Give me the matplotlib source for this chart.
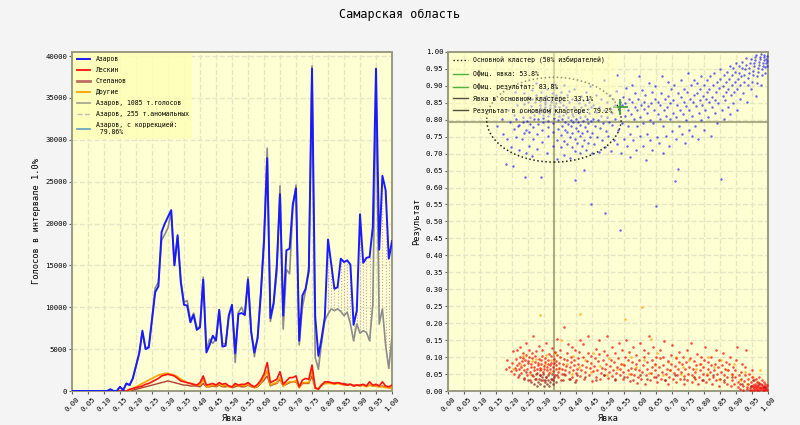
import numpy as np
import matplotlib
matplotlib.use("Agg")
import matplotlib.pyplot as plt
from matplotlib.patches import Ellipse
from matplotlib.lines import Line2D

plt.rcParams['font.family'] = ['DejaVu Sans Mono']

# ---- left panel: votes per 1% turnout bin ----
turnout = [i / 100 for i in range(101)]

azarov = [0] * 12 + [200, 0, 0, 500, 100, 900, 700, 1500,
    3000, 4500, 7200, 5000, 5200, 8500, 11800, 12500, 19000, 20000,
    20800, 21600, 15000, 18600, 13000, 10300, 10200, 8200, 9100, 7300,
    7600, 13300, 4600, 5500, 6600, 6000, 9700, 5300, 5400, 9000,
    10300, 4500, 9200, 9300, 9100, 13300, 7000, 4600, 6300, 11500,
    17800, 27800, 8700, 10500, 15000, 23500, 9000, 16800, 17000, 22300,
    24200, 6000, 11400, 12200, 14300, 38500, 8900, 4200, 6300, 8800,
    18100, 15200, 12200, 12400, 15800, 15400, 15600, 15100, 7900, 9600,
    21100, 15300, 15900, 16000, 19600, 38500, 16900, 25700, 24000, 15800,
    17900]

azarov_1085 = [0] * 12 + [200, 0, 0, 500, 100, 900, 700, 1500,
    3000, 4500, 7000, 5000, 5400, 8700, 12300, 13000, 18000, 18700,
    19500, 21400, 15000, 18400, 13200, 10600, 10800, 8400, 9300, 7600,
    7600, 13600, 5000, 6200, 5700, 6200, 9500, 5700, 5600, 9000,
    10200, 3400, 9400, 10000, 9000, 13600, 7200, 4100, 6500, 11800,
    18500, 29000, 8300, 10300, 14000, 24500, 7400, 14500, 14000, 21800,
    24600, 5500, 10000, 12000, 14800, 38800, 4000, 2600, 5800, 8400,
    9200, 9800, 9600, 9800, 9500, 9000, 9400, 8000, 6000, 8000,
    6900, 7200, 7000, 6000, 10300, 36000, 8000, 9800, 5500, 2700,
    6500]

leskin = [0] * 18 + [200, 300, 400, 500, 600, 800, 900, 1100, 1300, 1500,
    1800, 1900, 2000, 1900, 1800, 1500, 1200, 1100, 1000, 900, 800, 700,
    1000, 1800, 700, 800, 900, 700, 1000, 800, 900, 600, 500, 900, 700, 800,
    800, 1000, 700, 500, 800, 1300, 2000, 3400, 1000, 1200, 1400, 2300,
    800, 1200, 1600, 1600, 1800, 500, 1300, 1500, 1400, 3100, 400, 200,
    700, 1100, 1100, 1000, 900, 1000, 900, 800, 700, 800, 600, 700,
    700, 800, 600, 1100, 700, 800, 600, 1100, 600, 500, 700]

stepanov = [0] * 19 + [100, 200, 300, 400, 500, 600, 700, 800, 900, 1000,
    1100, 1200, 1100, 1000, 900, 800, 700, 700, 600, 600, 600, 500,
    900, 500, 500, 600, 500, 700, 500, 500, 600, 400, 500, 600, 500,
    500, 700, 500, 400, 500, 900, 1300, 1800, 600, 800, 900, 1400,
    600, 800, 1000, 1100, 1100, 400, 900, 900, 900, 1800, 300, 300,
    800, 900, 1000, 1000, 900, 1000, 900, 900, 800, 800, 700, 700,
    600, 700, 600, 700, 600, 600, 500, 600, 500, 400, 300]

drugie = [0] * 18 + [100, 300, 500, 700, 900, 1100, 1300, 1500, 1700, 1900,
    2000, 2100, 2100, 2000, 1900, 1700, 1400, 1200, 1000, 900, 800, 700,
    700, 1400, 500, 600, 700, 600, 800, 600, 700, 500, 500, 700, 600, 700,
    600, 800, 600, 400, 600, 1000, 1600, 2400, 700, 900, 1000, 1600,
    600, 900, 1100, 1100, 1200, 400, 1000, 1000, 1000, 2500, 300, 300,
    700, 900, 900, 900, 800, 900, 800, 700, 700, 800, 600, 700,
    600, 700, 500, 700, 600, 600, 500, 500, 400, 400, 300]

# ---- right panel: precincts (turnout, Azarov share) ----
blue_pts = [
    (0.152, 0.781), (0.168, 0.803), (0.173, 0.758), (0.181, 0.668), (0.184, 0.742),
    (0.187, 0.829), (0.193, 0.792), (0.196, 0.718), (0.198, 0.861), (0.202, 0.664),
    (0.205, 0.772), (0.207, 0.814), (0.209, 0.883), (0.212, 0.749), (0.214, 0.801),
    (0.216, 0.843), (0.219, 0.781), (0.221, 0.712), (0.223, 0.784), (0.225, 0.822),
    (0.227, 0.858), (0.229, 0.903), (0.231, 0.742), (0.233, 0.793), (0.235, 0.808),
    (0.236, 0.846), (0.238, 0.879), (0.239, 0.761), (0.241, 0.632), (0.243, 0.702),
    (0.244, 0.771), (0.246, 0.797), (0.247, 0.826), (0.249, 0.853), (0.251, 0.868),
    (0.252, 0.723), (0.254, 0.764), (0.255, 0.788), (0.257, 0.809), (0.258, 0.822),
    (0.260, 0.841), (0.261, 0.862), (0.263, 0.887), (0.264, 0.692), (0.266, 0.743),
    (0.267, 0.778), (0.269, 0.801), (0.270, 0.815), (0.272, 0.829), (0.273, 0.851),
    (0.275, 0.872), (0.276, 0.907), (0.278, 0.713), (0.279, 0.758), (0.281, 0.787),
    (0.282, 0.803), (0.283, 0.819), (0.284, 0.827), (0.286, 0.834), (0.287, 0.842),
    (0.288, 0.856), (0.289, 0.864), (0.291, 0.881), (0.292, 0.632), (0.293, 0.733),
    (0.294, 0.771), (0.296, 0.792), (0.297, 0.806), (0.298, 0.814), (0.299, 0.823),
    (0.301, 0.831), (0.302, 0.838), (0.303, 0.847), (0.304, 0.853), (0.306, 0.862),
    (0.307, 0.871), (0.308, 0.889), (0.309, 0.702), (0.311, 0.752), (0.312, 0.778),
    (0.313, 0.797), (0.314, 0.811), (0.316, 0.819), (0.317, 0.826), (0.318, 0.833),
    (0.319, 0.844), (0.321, 0.851), (0.322, 0.858), (0.323, 0.866), (0.324, 0.878),
    (0.326, 0.906), (0.327, 0.721), (0.328, 0.763), (0.329, 0.789), (0.331, 0.804),
    (0.332, 0.817), (0.333, 0.829), (0.334, 0.839), (0.336, 0.848), (0.337, 0.861),
    (0.338, 0.874), (0.339, 0.893), (0.341, 0.684), (0.342, 0.741), (0.343, 0.772),
    (0.344, 0.798), (0.346, 0.812), (0.347, 0.824), (0.348, 0.836), (0.349, 0.852),
    (0.351, 0.868), (0.352, 0.883), (0.353, 0.718), (0.354, 0.756), (0.356, 0.782),
    (0.357, 0.803), (0.358, 0.815), (0.359, 0.842), (0.361, 0.858), (0.362, 0.901),
    (0.363, 0.697), (0.364, 0.738), (0.366, 0.771), (0.367, 0.793), (0.368, 0.821),
    (0.369, 0.838), (0.371, 0.872), (0.372, 0.729), (0.373, 0.763), (0.374, 0.788),
    (0.376, 0.809), (0.377, 0.829), (0.378, 0.851), (0.379, 0.884), (0.381, 0.688),
    (0.382, 0.748), (0.383, 0.781), (0.384, 0.799), (0.386, 0.818), (0.387, 0.861),
    (0.388, 0.719), (0.389, 0.761), (0.391, 0.792), (0.392, 0.812), (0.393, 0.837),
    (0.394, 0.889), (0.396, 0.621), (0.397, 0.708), (0.398, 0.742), (0.399, 0.776),
    (0.401, 0.801), (0.402, 0.827), (0.403, 0.858), (0.404, 0.732), (0.406, 0.768),
    (0.407, 0.792), (0.408, 0.819), (0.409, 0.848), (0.411, 0.701), (0.412, 0.751),
    (0.413, 0.783), (0.414, 0.808), (0.416, 0.838), (0.417, 0.869), (0.418, 0.723),
    (0.419, 0.762), (0.421, 0.797), (0.422, 0.827), (0.423, 0.858), (0.424, 0.653),
    (0.426, 0.741), (0.427, 0.779), (0.428, 0.812), (0.429, 0.843), (0.431, 0.881),
    (0.432, 0.712), (0.433, 0.768), (0.434, 0.803), (0.436, 0.832), (0.437, 0.862),
    (0.438, 0.731), (0.439, 0.789), (0.441, 0.821), (0.442, 0.852), (0.443, 0.898),
    (0.444, 0.748), (0.446, 0.797), (0.447, 0.838), (0.448, 0.551), (0.449, 0.703),
    (0.451, 0.762), (0.452, 0.802), (0.453, 0.842), (0.456, 0.728), (0.458, 0.781),
    (0.461, 0.823), (0.463, 0.872), (0.466, 0.748), (0.468, 0.799), (0.471, 0.836),
    (0.473, 0.705), (0.475, 0.774), (0.477, 0.812), (0.479, 0.861), (0.482, 0.741),
    (0.484, 0.791), (0.486, 0.829), (0.488, 0.918), (0.490, 0.524), (0.492, 0.718),
    (0.494, 0.768), (0.496, 0.809), (0.498, 0.851), (0.501, 0.752), (0.503, 0.793),
    (0.505, 0.834), (0.507, 0.872), (0.509, 0.709), (0.512, 0.783), (0.514, 0.821),
    (0.516, 0.862), (0.518, 0.741), (0.521, 0.802), (0.523, 0.843), (0.525, 0.884),
    (0.527, 0.931), (0.529, 0.728), (0.532, 0.771), (0.534, 0.829), (0.536, 0.853),
    (0.539, 0.474), (0.541, 0.701), (0.543, 0.791), (0.545, 0.842), (0.547, 0.868),
    (0.550, 0.742), (0.552, 0.812), (0.554, 0.849), (0.556, 0.893), (0.559, 0.722),
    (0.561, 0.781), (0.563, 0.828), (0.565, 0.861), (0.568, 0.691), (0.570, 0.758),
    (0.572, 0.818), (0.574, 0.851), (0.576, 0.902), (0.579, 0.739), (0.581, 0.801),
    (0.583, 0.838), (0.585, 0.879), (0.588, 0.712), (0.590, 0.782), (0.592, 0.829),
    (0.594, 0.862), (0.596, 0.928), (0.599, 0.752), (0.601, 0.808), (0.603, 0.842),
    (0.605, 0.887), (0.608, 0.723), (0.610, 0.791), (0.612, 0.832), (0.614, 0.853),
    (0.617, 0.872), (0.619, 0.682), (0.621, 0.758), (0.623, 0.819), (0.625, 0.841),
    (0.628, 0.908), (0.630, 0.741), (0.632, 0.798), (0.634, 0.848), (0.637, 0.881),
    (0.639, 0.712), (0.641, 0.789), (0.643, 0.829), (0.646, 0.861), (0.648, 0.899),
    (0.650, 0.546), (0.652, 0.749), (0.655, 0.818), (0.657, 0.852), (0.659, 0.731),
    (0.662, 0.801), (0.664, 0.842), (0.666, 0.878), (0.668, 0.928), (0.671, 0.702),
    (0.673, 0.781), (0.675, 0.828), (0.677, 0.861), (0.680, 0.752), (0.682, 0.812),
    (0.684, 0.838), (0.686, 0.871), (0.689, 0.912), (0.691, 0.722), (0.693, 0.801),
    (0.695, 0.849), (0.698, 0.889), (0.700, 0.768), (0.702, 0.819), (0.704, 0.858),
    (0.707, 0.902), (0.709, 0.619), (0.711, 0.742), (0.713, 0.808), (0.716, 0.842),
    (0.718, 0.879), (0.720, 0.654), (0.722, 0.782), (0.725, 0.828), (0.727, 0.868),
    (0.729, 0.918), (0.731, 0.759), (0.734, 0.818), (0.736, 0.852), (0.738, 0.889),
    (0.741, 0.731), (0.743, 0.798), (0.745, 0.839), (0.747, 0.881), (0.750, 0.938),
    (0.752, 0.771), (0.754, 0.829), (0.756, 0.861), (0.759, 0.902), (0.761, 0.752),
    (0.763, 0.812), (0.765, 0.851), (0.768, 0.872), (0.770, 0.918), (0.772, 0.781),
    (0.774, 0.839), (0.777, 0.879), (0.779, 0.908), (0.781, 0.742), (0.783, 0.821),
    (0.786, 0.858), (0.788, 0.891), (0.790, 0.928), (0.792, 0.798), (0.795, 0.842),
    (0.797, 0.871), (0.799, 0.902), (0.801, 0.771), (0.804, 0.829), (0.806, 0.861),
    (0.808, 0.882), (0.810, 0.918), (0.813, 0.809), (0.815, 0.851), (0.817, 0.889),
    (0.819, 0.928), (0.822, 0.752), (0.824, 0.838), (0.826, 0.868), (0.828, 0.901),
    (0.831, 0.938), (0.833, 0.821), (0.835, 0.859), (0.837, 0.881), (0.840, 0.912),
    (0.842, 0.789), (0.844, 0.848), (0.846, 0.892), (0.849, 0.921), (0.851, 0.948),
    (0.853, 0.624), (0.855, 0.829), (0.858, 0.869), (0.860, 0.899), (0.862, 0.932),
    (0.864, 0.801), (0.866, 0.859), (0.868, 0.882), (0.870, 0.911), (0.872, 0.941),
    (0.874, 0.838), (0.876, 0.891), (0.878, 0.921), (0.880, 0.958), (0.882, 0.818),
    (0.884, 0.872), (0.886, 0.901), (0.888, 0.931), (0.890, 0.951), (0.892, 0.849),
    (0.894, 0.881), (0.896, 0.912), (0.898, 0.942), (0.900, 0.968), (0.902, 0.828),
    (0.904, 0.889), (0.906, 0.921), (0.908, 0.939), (0.910, 0.958), (0.912, 0.861),
    (0.914, 0.901), (0.916, 0.928), (0.918, 0.951), (0.920, 0.971), (0.922, 0.879),
    (0.924, 0.912), (0.926, 0.931), (0.928, 0.948), (0.930, 0.962), (0.932, 0.981),
    (0.934, 0.852), (0.936, 0.901), (0.938, 0.922), (0.940, 0.938), (0.942, 0.952),
    (0.944, 0.968), (0.946, 0.978), (0.948, 0.889), (0.950, 0.912), (0.952, 0.931),
    (0.954, 0.944), (0.955, 0.957), (0.957, 0.966), (0.958, 0.975), (0.960, 0.984),
    (0.962, 0.992), (0.963, 0.871), (0.965, 0.908), (0.966, 0.928), (0.968, 0.941),
    (0.969, 0.952), (0.971, 0.961), (0.972, 0.969), (0.974, 0.978), (0.975, 0.986),
    (0.977, 0.994), (0.978, 0.902), (0.980, 0.931), (0.981, 0.949), (0.983, 0.958),
    (0.984, 0.967), (0.986, 0.976), (0.987, 0.984), (0.989, 0.991), (0.990, 0.938),
    (0.991, 0.955), (0.993, 0.968), (0.994, 0.979), (0.996, 0.988), (0.997, 0.958),
    (0.998, 0.973),
]

red_pts = [
    (0.182, 0.065), (0.184, 0.091), (0.191, 0.072), (0.197, 0.058), (0.201, 0.083),
    (0.204, 0.117), (0.206, 0.049), (0.208, 0.068), (0.211, 0.094), (0.213, 0.061),
    (0.215, 0.077), (0.217, 0.122), (0.219, 0.042), (0.221, 0.066), (0.222, 0.083),
    (0.224, 0.101), (0.226, 0.131), (0.228, 0.054), (0.229, 0.072), (0.231, 0.088),
    (0.233, 0.097), (0.234, 0.112), (0.236, 0.038), (0.238, 0.061), (0.239, 0.078),
    (0.241, 0.092), (0.243, 0.106), (0.244, 0.142), (0.246, 0.047), (0.248, 0.064),
    (0.249, 0.082), (0.251, 0.089), (0.252, 0.101), (0.254, 0.121), (0.256, 0.032),
    (0.257, 0.056), (0.259, 0.071), (0.260, 0.081), (0.262, 0.096), (0.263, 0.111),
    (0.265, 0.163), (0.267, 0.043), (0.268, 0.062), (0.270, 0.071), (0.271, 0.086),
    (0.273, 0.102), (0.274, 0.117), (0.276, 0.036), (0.277, 0.052), (0.279, 0.066),
    (0.280, 0.076), (0.282, 0.084), (0.283, 0.094), (0.285, 0.132), (0.286, 0.046),
    (0.288, 0.061), (0.289, 0.069), (0.291, 0.081), (0.292, 0.091), (0.294, 0.104),
    (0.295, 0.121), (0.297, 0.031), (0.298, 0.057), (0.300, 0.066), (0.301, 0.074),
    (0.303, 0.086), (0.304, 0.098), (0.306, 0.141), (0.307, 0.041), (0.309, 0.062),
    (0.310, 0.071), (0.312, 0.079), (0.313, 0.091), (0.315, 0.109), (0.316, 0.052),
    (0.318, 0.066), (0.319, 0.076), (0.321, 0.084), (0.322, 0.102), (0.324, 0.126),
    (0.325, 0.036), (0.327, 0.058), (0.328, 0.071), (0.330, 0.082), (0.331, 0.094),
    (0.333, 0.116), (0.334, 0.046), (0.336, 0.064), (0.337, 0.076), (0.339, 0.089),
    (0.340, 0.106), (0.342, 0.152), (0.343, 0.041), (0.345, 0.056), (0.346, 0.069),
    (0.348, 0.084), (0.349, 0.101), (0.351, 0.121), (0.353, 0.031), (0.355, 0.051),
    (0.357, 0.066), (0.359, 0.079), (0.361, 0.094), (0.363, 0.188), (0.365, 0.046),
    (0.367, 0.061), (0.369, 0.074), (0.371, 0.091), (0.373, 0.111), (0.375, 0.139),
    (0.377, 0.036), (0.379, 0.056), (0.381, 0.071), (0.383, 0.086), (0.385, 0.101),
    (0.387, 0.131), (0.389, 0.041), (0.391, 0.061), (0.393, 0.076), (0.395, 0.091),
    (0.397, 0.121), (0.399, 0.031), (0.401, 0.052), (0.403, 0.066), (0.405, 0.081),
    (0.407, 0.096), (0.409, 0.116), (0.411, 0.151), (0.413, 0.044), (0.416, 0.063),
    (0.418, 0.078), (0.421, 0.099), (0.423, 0.138), (0.426, 0.036), (0.428, 0.057),
    (0.431, 0.072), (0.433, 0.089), (0.436, 0.112), (0.438, 0.161), (0.441, 0.048),
    (0.443, 0.067), (0.446, 0.082), (0.448, 0.104), (0.451, 0.029), (0.453, 0.058),
    (0.456, 0.074), (0.458, 0.096), (0.461, 0.123), (0.463, 0.041), (0.466, 0.062),
    (0.468, 0.087), (0.471, 0.109), (0.473, 0.151), (0.476, 0.034), (0.478, 0.053),
    (0.481, 0.069), (0.483, 0.091), (0.486, 0.118), (0.488, 0.046), (0.491, 0.064),
    (0.493, 0.079), (0.496, 0.106), (0.498, 0.162), (0.501, 0.038), (0.503, 0.057),
    (0.506, 0.073), (0.508, 0.092), (0.511, 0.131), (0.513, 0.044), (0.516, 0.061),
    (0.518, 0.086), (0.521, 0.112), (0.523, 0.031), (0.526, 0.052), (0.528, 0.071),
    (0.531, 0.097), (0.533, 0.142), (0.536, 0.046), (0.538, 0.066), (0.541, 0.081),
    (0.543, 0.121), (0.546, 0.036), (0.548, 0.056), (0.551, 0.076), (0.553, 0.101),
    (0.556, 0.151), (0.558, 0.041), (0.561, 0.061), (0.563, 0.091), (0.566, 0.116),
    (0.568, 0.029), (0.571, 0.051), (0.573, 0.069), (0.576, 0.086), (0.578, 0.131),
    (0.581, 0.046), (0.583, 0.066), (0.586, 0.081), (0.588, 0.106), (0.591, 0.024),
    (0.593, 0.041), (0.596, 0.061), (0.598, 0.092), (0.601, 0.141), (0.603, 0.036),
    (0.606, 0.056), (0.608, 0.076), (0.611, 0.101), (0.613, 0.121), (0.616, 0.021),
    (0.618, 0.046), (0.621, 0.066), (0.623, 0.086), (0.626, 0.111), (0.628, 0.163),
    (0.631, 0.031), (0.633, 0.052), (0.636, 0.071), (0.638, 0.091), (0.641, 0.131),
    (0.643, 0.041), (0.646, 0.061), (0.648, 0.081), (0.651, 0.101), (0.653, 0.026),
    (0.656, 0.046), (0.658, 0.071), (0.661, 0.096), (0.663, 0.121), (0.666, 0.036),
    (0.668, 0.056), (0.671, 0.076), (0.673, 0.101), (0.676, 0.146), (0.678, 0.031),
    (0.681, 0.051), (0.683, 0.066), (0.686, 0.089), (0.688, 0.021), (0.691, 0.041),
    (0.693, 0.061), (0.696, 0.081), (0.698, 0.106), (0.701, 0.136), (0.703, 0.034),
    (0.706, 0.054), (0.708, 0.074), (0.711, 0.096), (0.713, 0.026), (0.716, 0.046),
    (0.718, 0.066), (0.721, 0.086), (0.723, 0.116), (0.726, 0.036), (0.728, 0.056),
    (0.731, 0.079), (0.733, 0.101), (0.736, 0.021), (0.738, 0.044), (0.741, 0.064),
    (0.743, 0.086), (0.746, 0.121), (0.748, 0.031), (0.751, 0.051), (0.753, 0.071),
    (0.756, 0.096), (0.758, 0.141), (0.761, 0.026), (0.763, 0.046), (0.766, 0.066),
    (0.768, 0.089), (0.771, 0.036), (0.773, 0.056), (0.776, 0.076), (0.778, 0.109),
    (0.781, 0.021), (0.783, 0.041), (0.786, 0.061), (0.788, 0.081), (0.791, 0.101),
    (0.793, 0.031), (0.796, 0.051), (0.798, 0.071), (0.801, 0.091), (0.803, 0.131),
    (0.806, 0.026), (0.808, 0.046), (0.811, 0.066), (0.813, 0.086), (0.816, 0.036),
    (0.818, 0.056), (0.821, 0.076), (0.823, 0.101), (0.826, 0.021), (0.828, 0.041),
    (0.831, 0.061), (0.833, 0.081), (0.836, 0.121), (0.838, 0.031), (0.841, 0.051),
    (0.843, 0.071), (0.846, 0.091), (0.848, 0.016), (0.851, 0.036), (0.853, 0.056),
    (0.856, 0.076), (0.858, 0.111), (0.861, 0.026), (0.863, 0.046), (0.866, 0.066),
    (0.868, 0.086), (0.871, 0.021), (0.873, 0.041), (0.876, 0.061), (0.878, 0.081),
    (0.881, 0.101), (0.883, 0.016), (0.886, 0.031), (0.888, 0.051), (0.891, 0.071),
    (0.893, 0.021), (0.896, 0.041), (0.898, 0.061), (0.901, 0.091), (0.903, 0.131),
    (0.905, 0.011), (0.907, 0.026), (0.909, 0.046), (0.911, 0.006), (0.913, 0.021),
    (0.915, 0.036), (0.917, 0.056), (0.919, 0.081), (0.921, 0.004), (0.923, 0.014),
    (0.925, 0.029), (0.927, 0.046), (0.929, 0.071), (0.931, 0.121), (0.933, 0.006),
    (0.935, 0.011), (0.937, 0.021), (0.939, 0.036), (0.941, 0.051), (0.943, 0.003),
    (0.944, 0.009), (0.946, 0.016), (0.947, 0.026), (0.949, 0.041), (0.950, 0.061),
    (0.951, 0.004), (0.952, 0.011), (0.954, 0.019), (0.955, 0.031), (0.956, 0.003),
    (0.957, 0.008), (0.958, 0.014), (0.960, 0.022), (0.961, 0.036), (0.962, 0.005),
    (0.963, 0.011), (0.965, 0.017), (0.966, 0.026), (0.967, 0.004), (0.968, 0.009),
    (0.970, 0.015), (0.971, 0.024), (0.972, 0.041), (0.973, 0.003), (0.975, 0.008),
    (0.976, 0.013), (0.977, 0.021), (0.978, 0.006), (0.980, 0.011), (0.981, 0.018),
    (0.982, 0.031), (0.983, 0.004), (0.985, 0.009), (0.986, 0.016), (0.987, 0.027),
    (0.988, 0.003), (0.990, 0.007), (0.991, 0.013), (0.992, 0.022), (0.994, 0.005),
    (0.995, 0.011), (0.997, 0.018), (0.998, 0.004),
]

orange_pts = [
    (0.203, 0.066), (0.228, 0.076), (0.234, 0.103), (0.257, 0.051), (0.262, 0.087),
    (0.274, 0.094), (0.287, 0.224), (0.291, 0.064), (0.302, 0.081), (0.306, 0.107),
    (0.318, 0.056), (0.323, 0.091), (0.334, 0.112), (0.348, 0.066), (0.352, 0.151),
    (0.371, 0.081), (0.387, 0.049), (0.392, 0.102), (0.413, 0.227), (0.409, 0.071),
    (0.428, 0.091), (0.447, 0.056), (0.452, 0.111), (0.476, 0.074), (0.498, 0.046),
    (0.503, 0.096), (0.528, 0.064), (0.553, 0.212), (0.548, 0.081), (0.566, 0.051),
    (0.572, 0.101), (0.588, 0.071), (0.607, 0.248), (0.612, 0.091), (0.627, 0.054),
    (0.633, 0.152), (0.648, 0.076), (0.654, 0.111), (0.671, 0.046), (0.688, 0.086),
    (0.694, 0.061), (0.712, 0.101), (0.728, 0.051), (0.733, 0.071), (0.752, 0.091),
    (0.768, 0.041), (0.774, 0.066), (0.791, 0.081), (0.808, 0.051), (0.814, 0.101),
    (0.832, 0.071), (0.848, 0.036), (0.853, 0.091), (0.871, 0.061), (0.888, 0.046),
    (0.893, 0.081), (0.912, 0.031), (0.928, 0.056), (0.934, 0.021), (0.953, 0.041),
    (0.968, 0.026), (0.974, 0.061),
]

brown_pts = [
    (0.221, 0.046), (0.238, 0.036), (0.243, 0.056), (0.251, 0.031), (0.258, 0.026),
    (0.263, 0.046), (0.268, 0.021), (0.272, 0.036), (0.275, 0.051), (0.278, 0.016),
    (0.281, 0.026), (0.284, 0.036), (0.287, 0.046), (0.289, 0.021), (0.292, 0.031),
    (0.294, 0.041), (0.297, 0.051), (0.299, 0.016), (0.302, 0.026), (0.304, 0.031),
    (0.307, 0.041), (0.309, 0.021), (0.312, 0.031), (0.314, 0.046), (0.317, 0.016),
    (0.319, 0.026), (0.322, 0.036), (0.324, 0.051), (0.327, 0.021), (0.329, 0.031),
    (0.332, 0.041), (0.338, 0.026), (0.342, 0.046), (0.358, 0.031), (0.364, 0.051),
    (0.381, 0.036), (0.398, 0.026), (0.404, 0.046), (0.428, 0.041), (0.461, 0.031),
    (0.489, 0.046), (0.521, 0.036), (0.551, 0.041), (0.579, 0.031), (0.601, 0.046),
    (0.622, 0.036), (0.651, 0.041), (0.679, 0.031), (0.708, 0.046), (0.739, 0.036),
    (0.768, 0.041), (0.798, 0.031), (0.829, 0.046), (0.861, 0.031), (0.889, 0.041),
    (0.918, 0.021), (0.948, 0.016), (0.952, 0.031), (0.971, 0.021), (0.989, 0.011),
]

off_turnout = 0.538
off_result = 0.838
clu_turnout = 0.331
clu_result = 0.792

bg_fig = '#f4f4f4'
bg_ax = '#ffffd4'
grid_c = '#e6e6c4'

fig = plt.figure(figsize=(8, 4.25), dpi=100, facecolor=bg_fig)
fig.suptitle('Самарская область', fontsize=8.5, y=0.967, va='center')

ax1 = fig.add_axes([0.09, 0.08, 0.40, 0.798])
ax2 = fig.add_axes([0.56, 0.08, 0.40, 0.798])

ticks = np.round(np.arange(0, 1.0001, 0.05), 2)
for ax in (ax1, ax2):
    ax.set_facecolor(bg_ax)
    ax.grid(True, color=grid_c, ls='--', lw=1)
    ax.set_axisbelow(True)
    ax.set_xlim(0, 1)
    ax.set_xticks(ticks)
    ax.set_xticklabels(['%.2f' % v for v in ticks], rotation=45, fontsize=5.2)
    ax.tick_params(labelsize=5.2, length=2, color='#606060', pad=1.5)
    for s in ax.spines.values():
        s.set_color('#9a9a80')
        s.set_linewidth(1.4)
    ax.set_xlabel('Явка', fontsize=6.2, labelpad=1)

# left panel
t = np.array(turnout)
az = np.array(azarov)
az_g = np.array(azarov_1085)
ax1.plot(t, stepanov, color='#b04030', lw=1, zorder=3)
ax1.plot(t, drugie, color='#ffa000', lw=1.2, zorder=3)
ax1.plot(t, leskin, color='#ff1010', lw=1.2, zorder=4)
anom = (t >= 0.76) & (az > az_g)
ax1.vlines(t[anom], az_g[anom], az[anom], colors='#c8a0a0', linestyles=':',
           lw=0.8, zorder=2)
ax1.plot(t, az_g, color='#8c8c8c', lw=1.2, zorder=5)
ax1.plot(t, az, color='#1a1aff', lw=1.4, zorder=6)
ax1.set_ylim(0, 40500)
ax1.set_yticks(range(0, 40001, 5000))
ax1.set_ylabel('Голосов в интервале 1.0%', fontsize=6.2, labelpad=3)

h1 = [
    Line2D([], [], color='#1a1aff', lw=1.4),
    Line2D([], [], color='#ff1010', lw=1.3),
    Line2D([], [], color='#c07060', lw=2),
    Line2D([], [], color='#ffa000', lw=1.3),
    Line2D([], [], color='#a0a090', lw=1.2),
    Line2D([], [], color='#d0b8b8', lw=1, ls='--'),
    Line2D([], [], color='#60a0c0', lw=1.2),
]
l1 = ['Азаров', 'Лескин', 'Степанов', 'Другие', 'Азаров, 1085 т.голосов',
      'Азаров, 255 т.аномальных', 'Азаров, с коррекцией:\n 79.86%']
ax1.legend(h1, l1, loc='upper left', fontsize=4.7, frameon=True,
           facecolor='#ffffb8', edgecolor='none', framealpha=0.85,
           borderaxespad=0.1, handlelength=2.1, labelspacing=0.75,
           borderpad=0.6)

# right panel
bx, by = zip(*blue_pts)
rx, ry = zip(*red_pts)
ox, oy = zip(*orange_pts)
sx, sy = zip(*brown_pts)
ax2.scatter(bx, by, s=3, color='#1010ff', alpha=0.65, lw=0, zorder=3)
ax2.scatter(ox, oy, s=3.5, color='#ffa500', alpha=0.75, lw=0, zorder=3)
ax2.scatter(rx, ry, s=3.5, color='#ff0000', alpha=0.7, lw=0, zorder=3)
ax2.scatter(sx, sy, s=3.5, color='#8a2020', alpha=0.7, lw=0, zorder=3)

ax2.axvline(clu_turnout, color='#8a8a60', lw=1.5, alpha=0.7, zorder=2)
ax2.axhline(clu_result, color='#8a8a60', lw=1.5, alpha=0.7, zorder=2)
ax2.add_patch(Ellipse((clu_turnout, 0.80), 0.42, 0.25, fill=False,
                      ls=':', lw=1.1, ec='#202020', zorder=4))
ax2.plot([off_turnout, off_turnout], [off_result - 0.02, off_result + 0.02],
         color='#40a040', lw=1.3, zorder=5)
ax2.plot([off_turnout - 0.02, off_turnout + 0.02], [off_result, off_result],
         color='#40a040', lw=1.3, zorder=5)

ax2.set_ylim(0, 1)
ax2.set_yticks(ticks)
ax2.set_yticklabels(['%.2f' % v for v in ticks], fontsize=5.2)
ax2.set_ylabel('Результат', fontsize=6.2, labelpad=3)

h2 = [
    Line2D([], [], color='#202020', lw=1, ls=':'),
    Line2D([], [], color='#50b040', lw=1),
    Line2D([], [], color='#50b040', lw=1),
    Line2D([], [], color='#505040', lw=1),
    Line2D([], [], color='#505040', lw=1),
]
l2 = ['Основной кластер (50% избирателей)',
      'Офиц. явка: %.1f%%' % (off_turnout * 100),
      'Офиц. результат: %.1f%%' % (off_result * 100),
      'Явка в основном кластере: %.1f%%' % (clu_turnout * 100),
      'Результат в основном кластере: %.1f%%' % (clu_result * 100)]
ax2.legend(h2, l2, loc='upper left', fontsize=4.7, frameon=True,
           facecolor='#ffffc0', edgecolor='none', framealpha=0.5,
           borderaxespad=0.2, handlelength=2.3, labelspacing=0.9,
           borderpad=0.6)

fig.savefig('out.png', dpi=100, facecolor=bg_fig)
